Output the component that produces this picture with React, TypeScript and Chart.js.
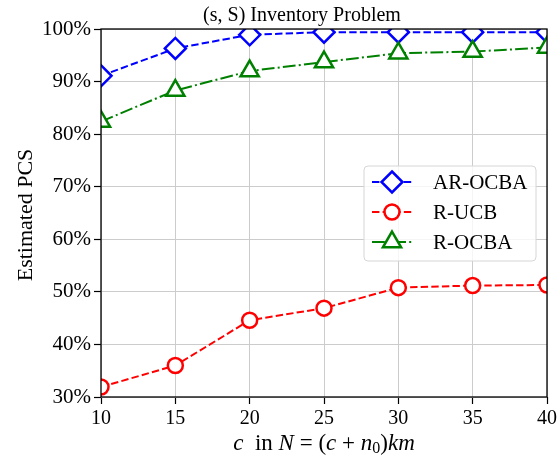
import React, { useEffect, useRef } from "react";
import { Chart, registerables } from "chart.js";

Chart.register(...registerables);

// ---- data ----
const cValues = [10, 15, 20, 25, 30, 35, 40];
const arOcba = [91.1, 96.3, 98.9, 99.4, 99.4, 99.4, 99.4];
const rUcb = [31.9, 36.0, 44.6, 46.9, 50.8, 51.2, 51.3];
const rOcba = [82.4, 88.3, 92.0, 93.7, 95.4, 95.7, 96.5];
const xTicks = [10, 15, 20, 25, 30, 35, 40];
const yTicks = [30, 40, 50, 60, 70, 80, 90, 100];
const seriesNames = ["AR-OCBA", "R-UCB", "R-OCBA"];
const chartTitle = "(s, S) Inventory Problem";
const yTitle = "Estimated PCS";

const SERIF = '"Liberation Serif", "DejaVu Serif", serif';
const BLUE = "#0000ff";
const RED = "#ff0000";
const GREEN = "#008000";
const DASH = [7.4, 3.2];
const DASHDOT = [12.8, 3.2, 2, 3.2];

type Style = { color: string; dash: number[]; shape: string; r: number };
const styles: Style[] = [
  { color: BLUE, dash: DASH, shape: "diamond", r: 10.5 },
  { color: RED, dash: DASH, shape: "circle", r: 7.5 },
  { color: GREEN, dash: DASHDOT, shape: "triangle", r: 10.5 },
];

function markerPath(ctx: CanvasRenderingContext2D, shape: string, x: number, y: number, r: number) {
  ctx.beginPath();
  if (shape === "circle") {
    ctx.arc(x, y, r, 0, Math.PI * 2);
  } else if (shape === "diamond") {
    ctx.moveTo(x, y - r);
    ctx.lineTo(x + r, y);
    ctx.lineTo(x, y + r);
    ctx.lineTo(x - r, y);
    ctx.closePath();
  } else {
    for (let i = 0; i < 3; i++) {
      const a = (i * 2 * Math.PI) / 3;
      const px = x + Math.sin(a) * r;
      const py = y - Math.cos(a) * r;
      if (i === 0) ctx.moveTo(px, py);
      else ctx.lineTo(px, py);
    }
    ctx.closePath();
  }
}

const framePlugin = {
  id: "frame",
  beforeDatasetsDraw(chart: any) {
    const { ctx, chartArea } = chart;
    ctx.save();
    ctx.beginPath();
    ctx.rect(chartArea.left, chartArea.top, chartArea.right - chartArea.left, chartArea.bottom - chartArea.top);
    ctx.clip();
  },
  afterDatasetsDraw(chart: any) {
    const { ctx, chartArea } = chart;
    ctx.restore();
    ctx.save();
    ctx.strokeStyle = "#000";
    ctx.lineWidth = 1.3;
    ctx.setLineDash([]);
    ctx.strokeRect(chartArea.left, chartArea.top, chartArea.right - chartArea.left, chartArea.bottom - chartArea.top);
    ctx.restore();
  },
};

const textPlugin = {
  id: "texts",
  afterDraw(chart: any) {
    const { ctx } = chart;
    ctx.save();
    ctx.fillStyle = "#000";
    // title
    ctx.font = `20px ${SERIF}`;
    ctx.textAlign = "center";
    ctx.textBaseline = "alphabetic";
    ctx.fillText(chartTitle, 302, 21);

    // y title
    ctx.save();
    ctx.translate(32, 215);
    ctx.rotate(-Math.PI / 2);
    ctx.font = `22px ${SERIF}`;
    ctx.fillText(yTitle, 0, 0);
    ctx.restore();

    // x title with mixed fonts
    const fs = 23;
    const segs: [string, string, number][] = [
      ["c", "italic", 0],
      ["  in ", "normal", 0],
      ["N", "italic", 0],
      [" = ", "normal", 0],
      ["(", "normal", 0],
      ["c", "italic", 0],
      [" + ", "normal", 0],
      ["n", "italic", 0],
      ["0", "sub", 0],
      [")", "normal", 0],
      ["km", "italic", 0],
    ];
    const fontFor = (k: string) =>
      k === "italic" ? `italic ${fs}px ${SERIF}` : k === "sub" ? `${Math.round(fs * 0.7)}px ${SERIF}` : `${fs}px ${SERIF}`;
    let total = 0;
    for (const s of segs) {
      ctx.font = fontFor(s[1]);
      s[2] = ctx.measureText(s[0]).width;
      total += s[2];
    }
    let x = 324 - total / 2;
    ctx.textAlign = "left";
    for (const s of segs) {
      ctx.font = fontFor(s[1]);
      ctx.fillText(s[0], x, s[1] === "sub" ? 453 : 450);
      x += s[2];
    }

    // legend
    const bx = 364, by = 166, bw = 172, bh = 95, rr = 4;
    ctx.beginPath();
    ctx.moveTo(bx + rr, by);
    ctx.arcTo(bx + bw, by, bx + bw, by + bh, rr);
    ctx.arcTo(bx + bw, by + bh, bx, by + bh, rr);
    ctx.arcTo(bx, by + bh, bx, by, rr);
    ctx.arcTo(bx, by, bx + bw, by, rr);
    ctx.closePath();
    ctx.fillStyle = "rgba(255,255,255,0.8)";
    ctx.fill();
    ctx.strokeStyle = "#d6d6d6";
    ctx.lineWidth = 1;
    ctx.stroke();

    const rows = [182, 212, 242];
    seriesNames.forEach((name, i) => {
      const st = styles[i];
      const y = rows[i];
      ctx.strokeStyle = st.color;
      ctx.lineWidth = 2;
      ctx.setLineDash(st.dash);
      ctx.beginPath();
      ctx.moveTo(372, y);
      ctx.lineTo(412, y);
      ctx.stroke();
      ctx.setLineDash([]);
      markerPath(ctx, st.shape, 392, y, st.r);
      ctx.fillStyle = "#fff";
      ctx.fill();
      ctx.lineWidth = 2.5;
      ctx.stroke();
      ctx.fillStyle = "#000";
      ctx.font = `21px ${SERIF}`;
      ctx.textAlign = "left";
      ctx.textBaseline = "middle";
      ctx.fillText(name, 433, y + 1);
    });
    ctx.restore();
  },
};

export default function App() {
  const ref = useRef<HTMLCanvasElement | null>(null);
  useEffect(() => {
    if (!ref.current) return;
    const series = [arOcba, rUcb, rOcba];
    const pointStyles = ["rectRot", "circle", "triangle"];
    const chart = new Chart(ref.current, {
      type: "line",
      data: {
        datasets: series.map((vals, i) => ({
          label: seriesNames[i],
          data: cValues.map((c, j) => ({ x: c, y: vals[j] })),
          borderColor: styles[i].color,
          borderWidth: 2,
          borderDash: styles[i].dash,
          pointStyle: pointStyles[i] as any,
          pointRadius: styles[i].r,
          pointBorderWidth: 2.5,
          pointBackgroundColor: "#fff",
          pointBorderColor: styles[i].color,
          fill: false,
          tension: 0,
          clip: 0,
          order: 3 - i,
        })),
      },
      options: {
        responsive: false,
        animation: false,
        layout: { padding: { left: 8, right: 13, top: 29, bottom: 21 } },
        plugins: {
          legend: { display: false },
          tooltip: { enabled: false },
          title: { display: false },
        },
        scales: {
          x: {
            type: "linear",
            min: 10,
            max: 40,
            afterBuildTicks: (s: any) => {
              s.ticks = xTicks.map((v) => ({ value: v }));
            },
            afterFit: (s: any) => {
              s.height = 40;
            },
            ticks: {
              font: { family: SERIF, size: 20 },
              color: "#000",
              padding: 3,
              maxRotation: 0,
              autoSkip: false,
            },
            grid: { color: "#cccccc", lineWidth: 1, tickLength: 7, tickColor: "#000", tickWidth: 1.2 },
            border: { display: false },
          },
          y: {
            type: "linear",
            min: 30,
            max: 100,
            afterBuildTicks: (s: any) => {
              s.ticks = yTicks.map((v) => ({ value: v }));
            },
            afterFit: (s: any) => {
              s.width = 93;
            },
            ticks: {
              font: { family: SERIF, size: 21 },
              color: "#000",
              padding: 3,
              callback: (v: any) => v + "%",
            },
            grid: { color: "#cccccc", lineWidth: 1, tickLength: 7, tickColor: "#000", tickWidth: 1.2 },
            border: { display: false },
          },
        },
      },
      plugins: [framePlugin, textPlugin],
    });
    return () => chart.destroy();
  }, []);
  return (
    <div style={{ position: "absolute", left: 0, top: 0, width: 560, height: 458, background: "#fff" }}>
      <canvas ref={ref} width={560} height={458} style={{ display: "block", width: 560, height: 458 }} />
    </div>
  );
}
